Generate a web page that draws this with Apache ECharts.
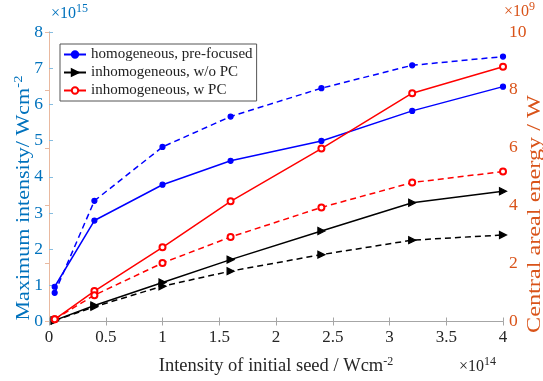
<!DOCTYPE html>
<html>
<head>
<meta charset="utf-8">
<script src="https://cdn.jsdelivr.net/npm/echarts@6/dist/echarts.min.js"></script>
<style>
  html, body { margin: 0; padding: 0; background: #fff; }
  #chart { width: 543px; height: 381px; }
</style>
</head>
<body>
<div id="chart"></div>
<script>
// seed intensity (x10^14 W/cm^2)
const seedX = [0.05, 0.4, 1, 1.6, 2.4, 3.2, 4];

// maximum intensity (x10^15 W/cm^2), left axis - solid lines
const homoIntensity = [0.96, 2.79, 3.78, 4.44, 4.99, 5.82, 6.49];
const noPcIntensity = [0.03, 0.44, 1.08, 1.71, 2.50, 3.28, 3.60];
const pcIntensity = [0.06, 0.84, 2.05, 3.32, 4.78, 6.31, 7.04];

// central areal energy (x10^9 W), right axis - dashed lines
const homoEnergy = [0.99, 4.17, 6.03, 7.08, 8.06, 8.85, 9.15];
const noPcEnergy = [0.03, 0.51, 1.22, 1.74, 2.31, 2.81, 2.99];
const pcEnergy = [0.08, 0.91, 2.02, 2.92, 3.94, 4.80, 5.18];

const legendNames = [
  "homogeneous, pre-focused",
  "inhomogeneous, w/o PC",
  "inhomogeneous, w PC",
];

const FONT = "'Liberation Serif', 'Times New Roman', serif";
const BLUE = "#0000ff";
const BLACK = "#000000";
const RED = "#ff0000";
const LEFT_C = "#0072BD";
const RIGHT_C = "#D95319";
const GREY_TXT = "#262626";

const pairs = (ys) => seedX.map((x, i) => [x, ys[i]]);

// the source figure is stretched vertically, so the rotated titles are
// longer than their font size suggests: scale them along the text
const measure = (txt, size) => {
  const ctx = document.createElement("canvas").getContext("2d");
  ctx.font = size + "px " + FONT;
  return ctx.measureText(txt).width;
};
const leftTitleW = measure("Maximum intensity/ Wcm", 18) + measure("-2", 12);
const rightTitleW = measure("Central areal energy / W", 18);
const leftScale = 245 / leftTitleW;
const rightScale = 238 / rightTitleW;

const dom = document.getElementById("chart");
const myChart = echarts.init(dom, null, { renderer: "canvas" });

const lineSeries = (name, data, color, yIdx, dashed, symbol) => ({
  name: name,
  type: "line",
  yAxisIndex: yIdx,
  data: pairs(data),
  symbol: symbol.type,
  symbolSize: symbol.size,
  symbolRotate: symbol.rotate || 0,
  showSymbol: true,
  animation: false,
  lineStyle: { color: color, width: 1.5, type: dashed ? [6, 4] : "solid" },
  itemStyle: { color: color, borderColor: color, borderWidth: 1.2 },
  emphasis: { disabled: true },
});

const dot = { type: "circle", size: 5 };
const tri = { type: "triangle", size: 7, rotate: -90 };
const ring = { type: "emptyCircle", size: 6 };

const supStyle = (c) => ({
  fontFamily: FONT,
  fontSize: 12,
  verticalAlign: "bottom",
  padding: [0, 0, 10, 0],
  color: c,
  fill: c,
});

const option = {
  backgroundColor: "#fff",
  textStyle: { fontFamily: FONT },
  grid: { left: 49, right: 40, top: 32, bottom: 56 },
  legend: {
    data: legendNames,
    orient: "vertical",
    left: 60,
    top: 44,
    itemWidth: 22,
    itemHeight: 8,
    itemGap: 3,
    padding: [3, 4, 3, 3],
    borderColor: "#555",
    borderWidth: 1,
    backgroundColor: "#fff",
    textStyle: { fontFamily: FONT, fontSize: 15, color: "#222" },
    selectedMode: false,
  },
  xAxis: [
    {
      type: "value",
      min: 0,
      max: 4,
      interval: 0.5,
      name: "Intensity of initial seed / Wcm{sup|-2}",
      nameLocation: "middle",
      nameGap: 34,
      nameTextStyle: {
        fontFamily: FONT,
        fontSize: 18.5,
        color: GREY_TXT,
        rich: { sup: supStyle(GREY_TXT) },
      },
      axisLine: { show: true, lineStyle: { color: "#a6a6a6", width: 1 } },
      axisTick: { show: true, inside: true, length: 4, lineStyle: { color: "#a6a6a6" } },
      axisLabel: { fontFamily: FONT, fontSize: 17, color: GREY_TXT, margin: 8 },
      splitLine: { show: false },
    },
    {
      type: "value",
      position: "top",
      min: 0,
      max: 4,
      interval: 0.5,
      axisLine: { show: true, lineStyle: { color: "#a6a6a6", width: 1 } },
      axisTick: { show: true, inside: true, length: 4, lineStyle: { color: "#a6a6a6" } },
      axisLabel: { show: false },
      splitLine: { show: false },
    },
  ],
  yAxis: [
    {
      type: "value",
      min: 0,
      max: 8,
      interval: 1,
      position: "left",
      axisLine: { show: true, lineStyle: { color: "#86bde0", width: 1 } },
      axisTick: { show: true, inside: true, length: 4, lineStyle: { color: "#86bde0" } },
      axisLabel: { fontFamily: FONT, fontSize: 17.5, color: LEFT_C, margin: 6 },
      splitLine: { show: false },
    },
    {
      type: "value",
      min: 0,
      max: 10,
      interval: 2,
      position: "right",
      axisLine: { show: true, lineStyle: { color: "#e9b9a0", width: 1 } },
      axisTick: { show: true, inside: true, length: 4, lineStyle: { color: "#e9b9a0" } },
      axisLabel: { fontFamily: FONT, fontSize: 17.5, color: RIGHT_C, margin: 6 },
      splitLine: { show: false },
    },
  ],
  graphic: [
    {
      type: "text",
      x: 24,
      y: 198,
      rotation: Math.PI / 2,
      scaleX: leftScale,
      style: {
        text: "Maximum intensity/ Wcm{sup|-2}",
        fontFamily: FONT,
        fontSize: 18,
        fill: LEFT_C,
        align: "center",
        verticalAlign: "middle",
        rich: { sup: supStyle(LEFT_C) },
      },
    },
    {
      type: "text",
      x: 535,
      y: 214,
      rotation: Math.PI / 2,
      scaleX: rightScale,
      style: {
        text: "Central areal energy / W",
        fontFamily: FONT,
        fontSize: 18,
        fill: RIGHT_C,
        align: "center",
        verticalAlign: "middle",
      },
    },
    {
      type: "text",
      x: 51,
      y: 3,
      style: {
        text: "×10{sup|15}",
        fontFamily: FONT,
        fontSize: 16,
        fill: LEFT_C,
        rich: { sup: supStyle(LEFT_C) },
      },
    },
    {
      type: "text",
      x: 504,
      y: 1,
      style: {
        text: "×10{sup|9}",
        fontFamily: FONT,
        fontSize: 16,
        fill: RIGHT_C,
        rich: { sup: supStyle(RIGHT_C) },
      },
    },
    {
      type: "text",
      x: 459,
      y: 356,
      style: {
        text: "×10{sup|14}",
        fontFamily: FONT,
        fontSize: 16,
        fill: GREY_TXT,
        rich: { sup: supStyle(GREY_TXT) },
      },
    },
  ],
  series: [
    lineSeries(legendNames[0], homoIntensity, BLUE, 0, false, dot),
    lineSeries(legendNames[1], noPcIntensity, BLACK, 0, false, tri),
    lineSeries(legendNames[2], pcIntensity, RED, 0, false, ring),
    lineSeries("homogeneous energy", homoEnergy, BLUE, 1, true, dot),
    lineSeries("w/o PC energy", noPcEnergy, BLACK, 1, true, tri),
    lineSeries("w PC energy", pcEnergy, RED, 1, true, ring),
  ],
};

if (option && typeof option === "object") {
  myChart.setOption(option);
}
</script>
</body>
</html>
